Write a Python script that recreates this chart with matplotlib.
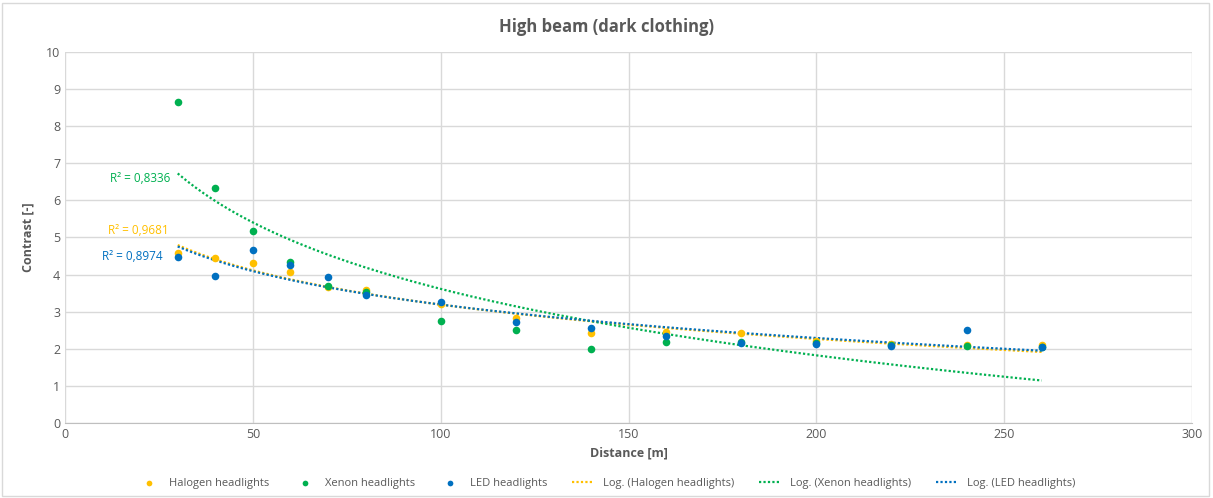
import matplotlib

matplotlib.use("Agg")
import matplotlib.pyplot as plt
import numpy as np
from matplotlib.patches import Rectangle

plt.rcParams["font.family"] = ["Open Sans", "DejaVu Sans"]

distance = [30, 40, 50, 60, 70, 80, 100, 120, 140, 160, 180, 200, 220, 240, 260]
halogen = [4.58, 4.45, 4.31, 4.07, 3.67, 3.58, 3.22, 2.82, 2.42, 2.44, 2.43, 2.22, 2.13, 2.10, 2.10]
xenon = [8.65, 6.33, 5.18, 4.33, 3.68, 3.52, 2.75, 2.51, 1.99, 2.19, 2.18, 2.15, 2.10, 2.07, 2.05]
led = [4.47, 3.97, 4.65, 4.27, 3.94, 3.45, 3.25, 2.73, 2.57, 2.35, 2.16, 2.13, 2.08, 2.52, 2.06]

names = ["Halogen headlights", "Xenon headlights", "LED headlights"]
colors = ["#FFC000", "#00B050", "#0070C0"]
r2_labels = ["R² = 0,9681", "R² = 0,8336", "R² = 0,8974"]
r2_pos = [(19.5, 5.2), (20, 6.58), (18, 4.5)]

fig = plt.figure(figsize=(12.13, 4.98), dpi=100)
ax = fig.add_axes([65 / 1213, 1 - 423 / 498, (1192 - 65) / 1213, (423 - 52) / 498])
fig.patches.append(Rectangle((0.002, 0.004), 0.995, 0.99, transform=fig.transFigure,
                             fill=False, edgecolor="#D9D9D9", linewidth=1))

x = np.array(distance, dtype=float)
series = [halogen, xenon, led]
for name, vals, c in zip(names, series, colors):
    ax.scatter(x, vals, s=30, color=c, zorder=3, label=name, linewidths=0)

# logarithmic trend lines, as Excel does
xs = np.linspace(x.min(), x.max(), 200)
for name, vals, c in zip(names, series, colors):
    b, a = np.polyfit(np.log(x), np.array(vals), 1)
    ax.plot(xs, a + b * np.log(xs), linestyle=(0, (1, 1)), color=c, linewidth=1.6,
            zorder=2, label=f"Log. ({name})")

for lab, (tx, ty), c in zip(r2_labels, r2_pos, colors):
    ax.text(tx, ty, lab, color=c, fontsize=8.5, ha="center", va="center")

ax.set_xlim(0, 300)
ax.set_ylim(0, 10)
ax.set_xticks(range(0, 301, 50))
ax.set_yticks(range(0, 11))
ax.grid(True, color="#D9D9D9", linewidth=1)
ax.set_axisbelow(True)
for s in ["top", "right", "left"]:
    ax.spines[s].set_visible(False)
ax.spines["bottom"].set_color("#BFBFBF")
ax.tick_params(length=0, colors="#595959", labelsize=9)
ax.set_xlabel("Distance [m]", color="#595959", fontsize=9, fontweight="bold", labelpad=4)
ax.set_ylabel("Contrast [-]", color="#595959", fontsize=9, fontweight="bold", labelpad=8)
fig.text(0.5, 1 - 27 / 498, "High beam (dark clothing)", ha="center", va="center",
         color="#595959", fontsize=12, fontweight="bold")

handles, labels = ax.get_legend_handles_labels()
fig.legend(handles, labels, loc="center", bbox_to_anchor=(0.5, 1 - 483 / 498), ncol=6,
           frameon=False, fontsize=8, labelcolor="#595959", handlelength=2.0,
           columnspacing=2.2, markerscale=0.75)

fig.savefig("out.png", dpi=100)
